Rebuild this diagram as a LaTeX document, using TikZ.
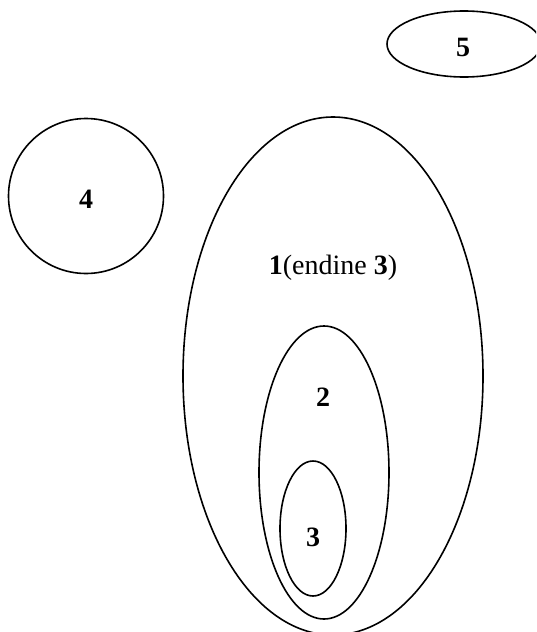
\documentclass[tikz,border=0pt]{standalone}
\usepackage{fontspec}
\setmainfont{Liberation Serif}
\begin{document}
\begin{tikzpicture}[x=1pt,y=-1pt,line width=1.6pt,
  lbl/.style={font=\fontsize{28}{34}\selectfont, inner sep=0pt}]
\useasboundingbox (0,0) rectangle (536,632);
\begin{scope}
\clip (0,0) rectangle (536,632);
\draw (464,44) ellipse [x radius=77, y radius=33];
\draw (86,196) circle [radius=77.5];
\draw (333,376) ellipse [x radius=150, y radius=259];
\draw (324,472.5) ellipse [x radius=65, y radius=146.5];
\draw (313,528.5) ellipse [x radius=33, y radius=67.5];
\end{scope}
\node[lbl] (n5) at (463,47) {\textbf{5}};
\node[lbl] (n4) at (86,199) {\textbf{4}};
\node[lbl] (n1) at (333,268) {\textbf{1}(endine \textbf{3})};
\node[lbl] (n2) at (323,397) {\textbf{2}};
\node[lbl] (n3) at (313,537) {\textbf{3}};
\end{tikzpicture}
\end{document}
